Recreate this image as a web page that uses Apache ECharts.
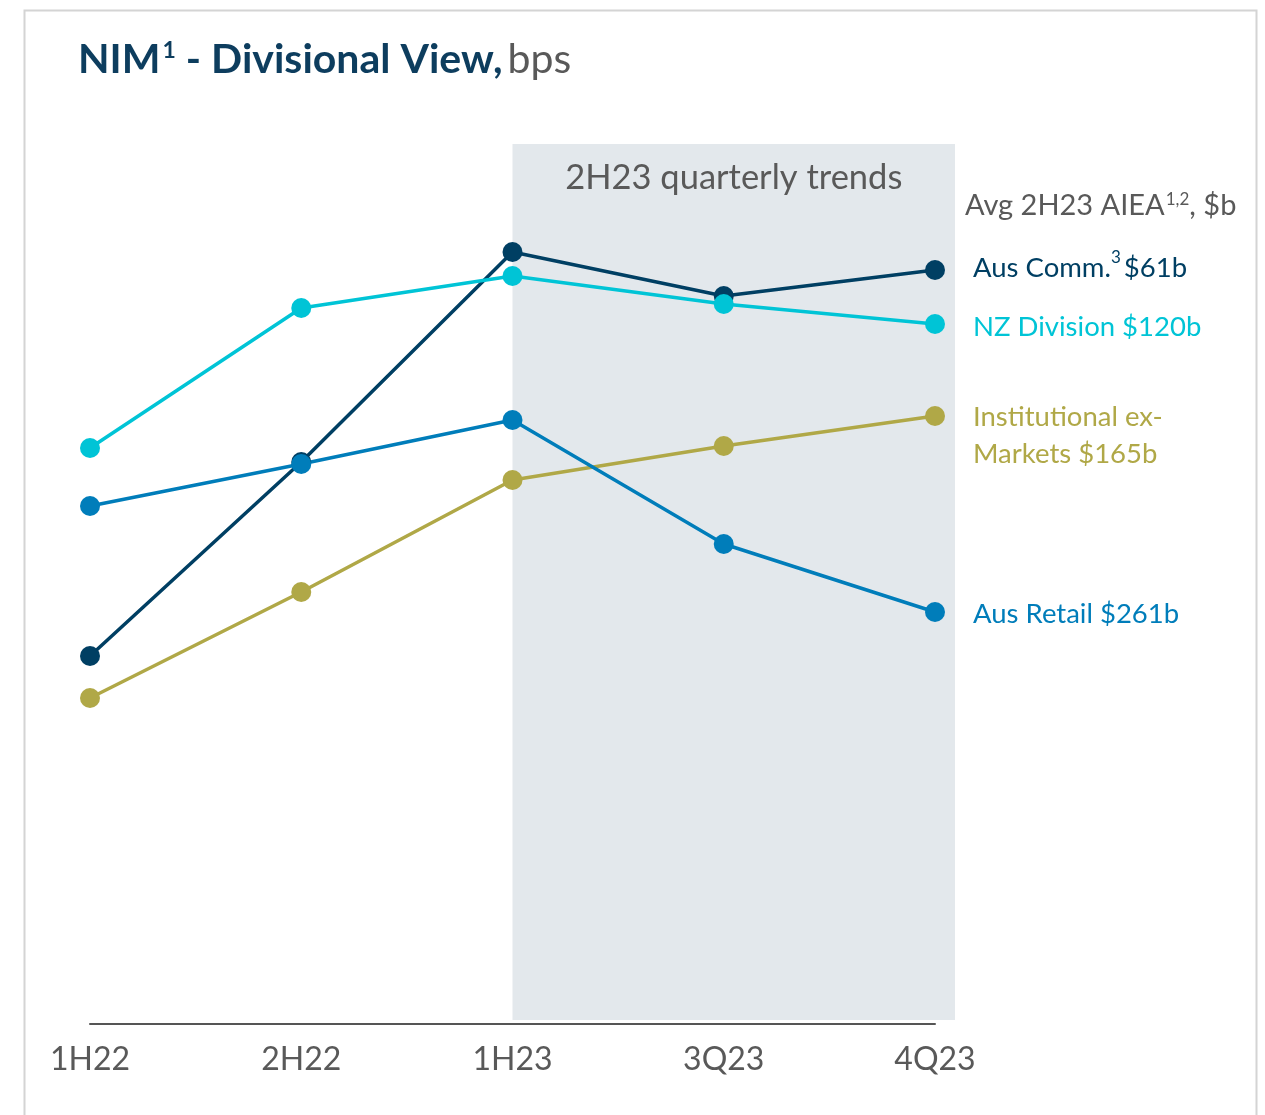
<!DOCTYPE html>
<html>
<head>
<meta charset="utf-8">
<script src="https://cdn.jsdelivr.net/npm/echarts@6/dist/echarts.min.js"></script>
<style>
  html, body { margin: 0; padding: 0; background: #fff; }
  #main { width: 1265px; height: 1115px; }
</style>
</head>
<body>
<div id="main"></div>
<script>
// 类目（x轴）
const categories = ['1H22', '2H22', '1H23', '3Q23', '4Q23'];
// NIM，bps（图中无刻度，按位置估读）
const ausComm = [242, 290.5, 343, 332, 338.5];
const nzDivision = [294, 329, 337, 330, 325];
const institutional = [231.5, 258, 286, 294.5, 302];
const ausRetail = [279.5, 290, 301, 270, 253];
// 右侧标签
const seriesNames = ['Aus Comm.', 'NZ Division', 'Institutional ex-Markets', 'Aus Retail'];
const aieaLabels = ['$61b', '$120b', '$165b', '$261b'];

const font = 'Lato, "Open Sans", sans-serif';
const gray = '#595959';
const colors = ['#003f63', '#00c4d6', '#b0a847', '#007dba'];

const chart = echarts.init(document.getElementById('main'));

function makeSeries(i, data, formatter, offset) {
  return {
    name: seriesNames[i],
    type: 'line',
    data: data,
    symbol: 'circle',
    symbolSize: 20,
    lineStyle: { width: 3.5, color: colors[i] },
    itemStyle: { color: colors[i] },
    z: 5,
    endLabel: {
      show: true,
      distance: 38,
      offset: offset || [0, 0],
      formatter: formatter,
      color: colors[i],
      fontFamily: font,
      fontSize: 27.5,
      lineHeight: 37,
      rich: {
        sup: { fontSize: 17, verticalAlign: 'top', color: colors[i], fontFamily: font, padding: [0, 3, 12, 0] }
      }
    }
  };
}

const option = {
  animation: false,
  grid: { left: 90, right: 330, top: 144, bottom: 91 },
  xAxis: {
    type: 'category',
    boundaryGap: false,
    data: categories,
    axisLine: { lineStyle: { color: '#555', width: 2 } },
    axisTick: { show: false },
    axisLabel: { color: gray, fontFamily: font, fontSize: 32, margin: 20 }
  },
  yAxis: {
    type: 'value',
    min: 150,
    max: 370,
    show: false,
    splitLine: { show: false }
  },
  title: {
    left: 73,
    top: 34,
    text: '{b|NIM}{s|1}{b| - Divisional View,} {n|bps}',
    textStyle: {
      rich: {
        b: { fontFamily: font, fontSize: 41, fontWeight: 'bold', color: '#0d3d5e' },
        s: { fontFamily: font, fontSize: 23, fontWeight: 'bold', color: '#0d3d5e', verticalAlign: 'top', padding: [0, 0, 18, 2] },
        n: { fontFamily: font, fontSize: 41, fontWeight: 'normal', color: gray }
      }
    }
  },
  series: [
    makeSeries(0, ausComm, 'Aus Comm.{sup|3}$61b', [0, -2]),
    makeSeries(1, nzDivision, 'NZ Division $120b', [0, 3]),
    makeSeries(2, institutional, 'Institutional ex-\nMarkets $165b', [0, 20]),
    makeSeries(3, ausRetail, 'Aus Retail $261b', [0, 2])
  ]
};
chart.setOption(option);

// 阴影区域：1H23 至 4Q23 之后
const x0 = chart.convertToPixel({ xAxisIndex: 0 }, '1H23');
const x1 = chart.convertToPixel({ xAxisIndex: 0 }, '4Q23') + 20;
const yTop = 144;
const yBottom = chart.convertToPixel({ yAxisIndex: 0 }, 150) - 4;

chart.setOption({
  graphic: [
    {
      type: 'rect',
      left: 22, top: 8, z: -20,
      shape: { width: 1232, height: 1130 },
      style: { fill: 'none', stroke: '#d4d4d4', lineWidth: 2 }
    },
    {
      type: 'rect', z: -10,
      shape: { x: x0, y: yTop, width: x1 - x0, height: yBottom - yTop },
      style: { fill: '#e3e8ec' }
    },
    {
      type: 'text', z: 1,
      x: (x0 + x1) / 2, y: 178,
      style: {
        text: '2H23 quarterly trends',
        fill: gray, font: '34.5px ' + font,
        textAlign: 'center', textVerticalAlign: 'middle'
      }
    },
    {
      type: 'text', z: 1,
      x: 965, y: 206,
      style: {
        text: '{n|Avg 2H23 AIEA}{s|1,2}{n|, $b}',
        textVerticalAlign: 'middle',
        rich: {
          n: { fontFamily: font, fontSize: 29, fill: gray },
          s: { fontFamily: font, fontSize: 17, fill: gray, verticalAlign: 'top', padding: [0, 0, 13, 1] }
        }
      }
    }
  ]
});
</script>
</body>
</html>
